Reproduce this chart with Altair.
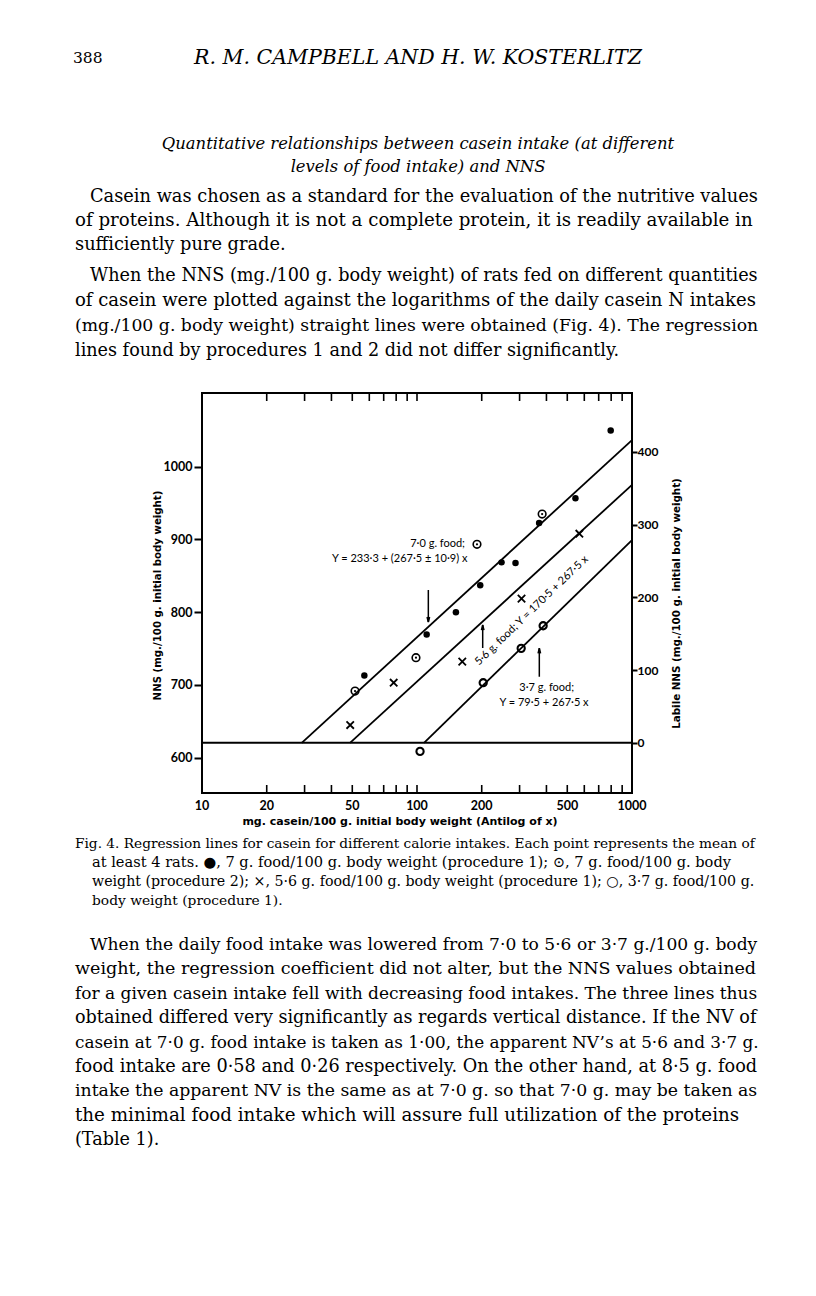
import altair as alt
import pandas as pd

# ---------------- data ----------------
# 7.0 g food, procedure 1 (filled dots)
dot_casein = [56.9, 110.9, 151.7, 196.8, 247.3, 287.2, 369.8, 545.7, 796.0]
dot_nns = [713.0, 769.5, 799.8, 836.9, 868.5, 867.6, 922.6, 956.5, 1049.9]
# 7.0 g food, procedure 2 (dotted circles)
ring_casein = [51.5, 98.9, 382.0]
ring_nns = [691.6, 737.5, 934.9]
# 5.6 g food (crosses)
cross_casein = [48.9, 77.9, 162.4, 306.3, 569.0]
cross_nns = [644.9, 703.1, 732.0, 818.6, 907.9]
# 3.7 g food (open circles)
open_casein = [103.3, 203.2, 305.2, 386.1]
open_nns = [608.7, 703.1, 750.3, 781.4]

# regression lines (labile NNS units)
line_names = ["7·0 g.", "5·6 g.", "3·7 g."]
line_casein_start = [29.1, 48.8, 107.8]
line_casein_end = [1000.0, 1000.0, 1000.0]
line_labile_start = [0.0, 0.0, 0.0]
line_labile_end = [416.0, 354.5, 278.5]

# annotation arrows
arrow_casein = [112.9, 202.1, 370.6]
arrow_tail_nns = [830.5, 750.8, 711.3]
arrow_head_nns = [786.5, 782.4, 750.4]
arrow_dir = ["down", "up", "up"]

# axis ticks / labels
x_label_values = [10, 20, 50, 100, 200, 500, 1000]
x_label_text = ["10", "20", "50", "100", "200", "500", "1000"]
x_tick_values = [20, 30, 40, 50, 60, 70, 80, 90, 100, 200, 300, 400, 500, 600, 700, 800, 900]
y_left_values = [600, 700, 800, 900, 1000]
y_right_values = [0, 100, 200, 300, 400]

X_DOMAIN = [10, 1000]
Y_DOMAIN = [551.5, 1101.3]
LABILE_OFFSET = 620.5
L_DOMAIN = [Y_DOMAIN[0] - LABILE_OFFSET, Y_DOMAIN[1] - LABILE_OFFSET]

W, H = 430, 400
OX, OY = 202, 393  # page position of the plot origin

SANS = "Lato"
TITLE_SANS = "DejaVu Sans"
SERIF = "DejaVu Serif"

xscale = alt.Scale(type="log", domain=X_DOMAIN, nice=False)
yscale = alt.Scale(domain=Y_DOMAIN, nice=False, zero=False)
lscale = alt.Scale(domain=L_DOMAIN, nice=False, zero=False)


def xenc(field):
    return alt.X(field, type="quantitative", scale=xscale, axis=None)


def yenc(field, axis=None):
    return alt.Y(field, type="quantitative", scale=yscale, axis=axis)


dots_df = pd.DataFrame({"casein": dot_casein, "nns": dot_nns})
ring_df = pd.DataFrame({"casein": ring_casein, "nns": ring_nns})
cross_df = pd.DataFrame({"casein": cross_casein, "nns": cross_nns})
open_df = pd.DataFrame({"casein": open_casein, "nns": open_nns})
lines_df = pd.DataFrame({
    "name": line_names,
    "c0": line_casein_start, "c1": line_casein_end,
    "l0": line_labile_start, "l1": line_labile_end,
})
arrow_df = pd.DataFrame({
    "casein": arrow_casein, "tail": arrow_tail_nns, "head": arrow_head_nns, "dir": arrow_dir,
})

y_left_axis = alt.Axis(
    orient="left", values=y_left_values, format="d", grid=False, domain=False,
    tickSize=8, tickWidth=2, tickColor="black",
    labelFont=SANS, labelFontSize=12.5, labelFontWeight="bold", labelColor="black",
    labelPadding=2,
    title="NNS (mg./100 g. initial body weight)",
    titleFont=TITLE_SANS, titleFontSize=10.2, titleFontWeight="bold", titleColor="black",
    titleAngle=270, titleX=-45, titleY=202, titleAlign="center", titleBaseline="middle",
)
y_right_axis = alt.Axis(
    orient="right", values=y_right_values, format="d", grid=False, domain=False,
    tickSize=5, tickWidth=2, tickColor="black",
    labelFont=SANS, labelFontSize=12, labelFontWeight="bold", labelColor="black",
    labelPadding=0,
    title="Labile NNS (mg./100 g. initial body weight)",
    titleFont=TITLE_SANS, titleFontSize=10.3, titleFontWeight="bold", titleColor="black",
    titleAngle=270, titleX=44, titleY=210, titleAlign="center", titleBaseline="middle",
)

# ---- NNS layers ----
dots = alt.Chart(dots_df).mark_point(
    shape="circle", filled=True, size=42, color="black", opacity=1
).encode(x=xenc("casein"), y=yenc("nns", y_left_axis))

rings = alt.Chart(ring_df).mark_point(
    shape="circle", filled=False, size=58, color="black", strokeWidth=1.6, opacity=1
).encode(x=xenc("casein"), y=yenc("nns"))
ring_centers = alt.Chart(ring_df).mark_point(
    shape="circle", filled=True, size=5, color="black", opacity=1
).encode(x=xenc("casein"), y=yenc("nns"))

crosses = alt.Chart(cross_df).mark_point(
    shape="M-1,-1L1,1M-1,1L1,-1", filled=False, size=55, color="black",
    strokeWidth=1.8, opacity=1
).encode(x=xenc("casein"), y=yenc("nns"))

opens = alt.Chart(open_df).mark_point(
    shape="circle", filled=False, size=52, color="black", strokeWidth=2.1, opacity=1
).encode(x=xenc("casein"), y=yenc("nns"))

arrow_shafts = alt.Chart(arrow_df).mark_rule(color="black", strokeWidth=1.5).encode(
    x=xenc("casein"), y=yenc("tail"), y2="head"
)
arrow_heads_down = alt.Chart(arrow_df).transform_filter(alt.datum.dir == "down").mark_point(
    shape="M-0.4,-1.6L0,0L0.4,-1.6", filled=False, size=40, color="black",
    strokeWidth=1.5, opacity=1
).encode(x=xenc("casein"), y=yenc("head"))
arrow_heads_up = alt.Chart(arrow_df).transform_filter(alt.datum.dir == "up").mark_point(
    shape="M-0.4,1.6L0,0L0.4,1.6", filled=False, size=40, color="black",
    strokeWidth=1.5, opacity=1
).encode(x=xenc("casein"), y=yenc("head"))

# annotations (positions in data units)
ann_df = pd.DataFrame({
    "casein": [167.2, 83.1, 401.2, 389.7],
    "nns": [893.3, 873.1, 695.4, 675.6],
    "text": ["7·0 g. food;", "Y = 233·3 + (267·5 ± 10·9) x", "3·7 g. food;", "Y = 79·5 + 267·5 x"],
    "align": ["right", "center", "center", "center"],
})
ann_right = alt.Chart(ann_df[ann_df["align"] == "right"]).mark_text(
    align="right", baseline="middle", font=SANS, fontSize=11, color="black"
).encode(x=xenc("casein"), y=yenc("nns"), text="text:N")
ann_center = alt.Chart(ann_df[ann_df["align"] == "center"]).mark_text(
    align="center", baseline="middle", font=SANS, fontSize=11, color="black"
).encode(x=xenc("casein"), y=yenc("nns"), text="text:N")
ann_rot = alt.Chart(pd.DataFrame({"casein": [341.7], "nns": [802.1],
                                  "text": ["5·6 g. food;  Y = 170·5 + 267·5 x"]})).mark_text(
    align="center", baseline="middle", font=SANS, fontSize=11, color="black", angle=316
).encode(x=xenc("casein"), y=yenc("nns"), text="text:N")

key_df = pd.DataFrame({"casein": [190.1], "nns": [893.3]})
key_ring = alt.Chart(key_df).mark_point(
    shape="circle", filled=False, size=58, color="black", strokeWidth=1.6, opacity=1
).encode(x=xenc("casein"), y=yenc("nns"))
key_dot = alt.Chart(key_df).mark_point(
    shape="circle", filled=True, size=5, color="black", opacity=1
).encode(x=xenc("casein"), y=yenc("nns"))

ticks_df = pd.DataFrame({"casein": x_tick_values})
ticks_bottom = alt.Chart(ticks_df).mark_rule(color="black", strokeWidth=1.6).encode(
    x=xenc("casein"), y=alt.value(H), y2=alt.value(H - 8)
)
ticks_top = alt.Chart(ticks_df).mark_rule(color="black", strokeWidth=1.6).encode(
    x=xenc("casein"), y=alt.value(0), y2=alt.value(8)
)
xlab_df = pd.DataFrame({"casein": x_label_values, "label": x_label_text})
x_labels = alt.Chart(xlab_df).mark_text(
    align="center", baseline="middle", font=SANS, fontSize=12.5, fontWeight="bold",
    color="black"
).encode(x=xenc("casein"), y=alt.value(H + 13), text="label:N")
x_title = alt.Chart(alt.Data(values=[{}])).mark_text(
    text="mg. casein/100 g. initial body weight (Antilog of x)",
    align="center", baseline="middle", font=TITLE_SANS, fontSize=11, fontWeight="bold",
    color="black"
).encode(x=alt.value(198), y=alt.value(H + 29))

# ---- labile NNS layers ----
reg_lines = alt.Chart(lines_df).mark_rule(color="black", strokeWidth=1.8).encode(
    x=xenc("c0"), x2="c1",
    y=alt.Y("l0", type="quantitative", scale=lscale, axis=y_right_axis), y2="l1",
)
zero_line = alt.Chart(pd.DataFrame({"labile": [0.0]})).mark_rule(
    color="black", strokeWidth=2
).encode(
    y=alt.Y("labile", type="quantitative", scale=lscale, axis=None),
    x=alt.value(0), x2=alt.value(W),
)

# ---- page text ----
header_num = "388"
header_names = "R. M. CAMPBELL AND H. W. KOSTERLITZ"
title_lines = [
    "Quantitative relationships between casein intake (at different",
    "levels of food intake) and NNS",
]
p1_lines = [
    "Casein was chosen as a standard for the evaluation of the nutritive values",
    "of proteins.  Although it is not a complete protein, it is readily available in",
    "sufficiently pure grade.",
]
p2_lines = [
    "When the NNS (mg./100 g. body weight) of rats fed on different quantities",
    "of casein were plotted against the logarithms of the daily casein N intakes",
    "(mg./100 g. body weight) straight lines were obtained (Fig. 4). The regression",
    "lines found by procedures 1 and 2 did not differ significantly.",
]
caption_lines = [
    "Fig. 4.  Regression lines for casein for different calorie intakes.  Each point represents the mean of",
    "at least 4 rats.  ●, 7 g. food/100 g. body weight (procedure 1);  ⊙, 7 g. food/100 g. body",
    "weight (procedure 2);  ×, 5·6 g. food/100 g. body weight (procedure 1);  ○, 3·7 g. food/100 g.",
    "body weight (procedure 1).",
]
p3_lines = [
    "When the daily food intake was lowered from 7·0 to 5·6 or 3·7 g./100 g. body",
    "weight, the regression coefficient did not alter, but the NNS values obtained",
    "for a given casein intake fell with decreasing food intakes. The three lines thus",
    "obtained differed very significantly as regards vertical distance.  If the NV of",
    "casein at 7·0 g. food intake is taken as 1·00, the apparent NV’s at 5·6 and 3·7 g.",
    "food intake are 0·58 and 0·26 respectively.  On the other hand, at 8·5 g. food",
    "intake the apparent NV is the same as at 7·0 g. so that 7·0 g. may be taken as",
    "the minimal food intake which will assure full utilization of the proteins",
    "(Table 1).",
]

# per-line type size (to approximate the justified measure of the page)
p1_sizes = [17.8, 18.2, 17.8]
p2_sizes = [17.65, 18.05, 17.25, 17.6]
p3_sizes = [17.1, 17.55, 17.0, 17.6, 16.85, 17.7, 17.3, 18.3, 17.6]
cap_sizes = [13.7, 14.6, 14.2, 13.8]


def line_text(txt, px, base_y, size, align="left", style="normal"):
    return alt.Chart(alt.Data(values=[{}])).mark_text(
        text=txt, align=align, baseline="alphabetic", font=SERIF, fontSize=size,
        fontStyle=style, color="black",
    ).encode(x=alt.value(px - OX), y=alt.value(base_y - OY))


def paragraph(lines, sizes, first_base, lh, indent_x, left_x):
    out = []
    for i, (ln, sz) in enumerate(zip(lines, sizes)):
        out.append(line_text(ln, indent_x if i == 0 else left_x, first_base + i * lh, sz))
    return out


texts = [
    line_text(header_num, 73, 63, 15.5),
    line_text(header_names, 418, 64, 20.5, align="center", style="italic"),
    line_text(title_lines[0], 418, 149, 16.4, align="center", style="italic"),
    line_text(title_lines[1], 418, 172, 16.4, align="center", style="italic"),
]
texts += paragraph(p1_lines, p1_sizes, 202, 24, 90, 75)
texts += paragraph(p2_lines, p2_sizes, 281, 25, 90, 75)
texts += paragraph(caption_lines, cap_sizes, 848, 19, 75, 92)
texts += paragraph(p3_lines, p3_sizes, 950, 24.4, 90, 75)

chart = alt.layer(
    dots, rings, ring_centers, crosses, opens, arrow_shafts, arrow_heads_down,
    arrow_heads_up, ann_right, ann_center, ann_rot, key_ring, key_dot,
    ticks_bottom, ticks_top, x_labels, x_title, reg_lines, zero_line, *texts,
).resolve_scale(
    y="independent"
).properties(
    width=W, height=H,
    autosize=alt.AutoSizeParams(type="none"),
    padding={"left": OX - 8, "top": OY - 8, "right": 816 - 8 - (OX + W) - 8, "bottom": 460},
    background="white",
).configure_view(stroke="black", strokeWidth=2)

chart.save("out.html", embed_options={"renderer": "svg", "actions": False})
